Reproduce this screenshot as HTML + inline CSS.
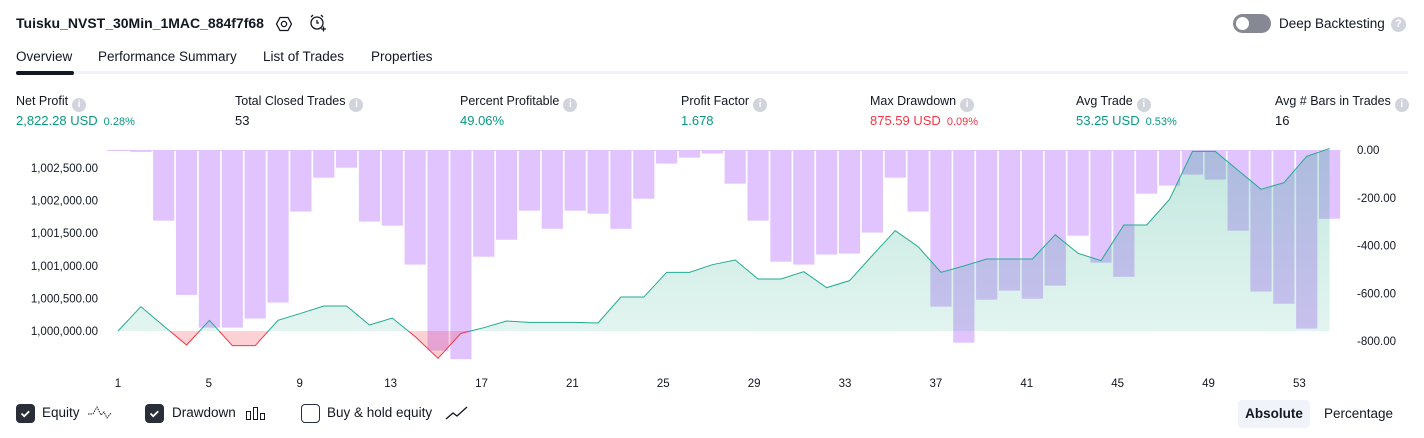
<!DOCTYPE html>
<html><head><meta charset="utf-8"><style>
*{box-sizing:border-box;margin:0;padding:0}
body{width:1424px;height:438px;background:#fff;font-family:"Liberation Sans",sans-serif;color:#131722;position:relative;overflow:hidden}
.a{position:absolute;white-space:nowrap}
.lbl{font-size:12.5px;color:#131722}
.val{font-size:13px}
.info{display:inline-block;width:14px;height:14px;border-radius:50%;background:#d1d4dc;color:#fff;font-size:10px;font-weight:bold;text-align:center;line-height:14px;vertical-align:-2px;margin-left:4px}
.pct{font-size:11px;margin-left:6px}
.g{color:#089981}.r{color:#f23645}
.tab{font-size:13.5px;top:49px}
.cb{position:absolute;width:19px;height:19px;border-radius:4px;top:404px}
.leg{font-size:13.5px;top:405px}
</style></head><body>
<div class="a" style="left:16px;top:15px;font-size:14px;font-weight:bold">Tuisku_NVST_30Min_1MAC_884f7f68</div>
<svg class="a" style="left:275px;top:15px" width="18" height="18" viewBox="0 0 18 18"><polygon points="5,2.5 13,2.5 16.5,9 13,15.5 5,15.5 1.5,9" fill="none" stroke="#131722" stroke-width="1.3"/><circle cx="9" cy="9" r="2.6" fill="none" stroke="#131722" stroke-width="1.3"/></svg>
<svg class="a" style="left:308px;top:13px" width="20" height="20" viewBox="0 0 20 20"><circle cx="9" cy="10" r="6" fill="none" stroke="#131722" stroke-width="1.3"/><path d="M9 7v3h2M3 4l2-2M15 4l-2-2M13 16h5M15.5 13.5v5" fill="none" stroke="#131722" stroke-width="1.3"/></svg>
<div class="a" style="left:1233px;top:14px;width:38px;height:19px;border-radius:10px;background:#868993"><div style="position:absolute;left:3px;top:3px;width:13px;height:13px;border-radius:50%;background:#fff"></div></div>
<div class="a" style="left:1279px;top:16px;font-size:13.5px">Deep Backtesting</div>
<div class="a" style="left:1391px;top:17px;width:15px;height:15px;border-radius:50%;background:#d1d4dc;color:#fff;font-size:11px;font-weight:bold;text-align:center;line-height:15px">?</div>

<div class="a tab" style="left:16px">Overview</div>
<div class="a tab" style="left:98px">Performance Summary</div>
<div class="a tab" style="left:263px">List of Trades</div>
<div class="a tab" style="left:371px">Properties</div>
<div class="a" style="left:16px;top:71px;width:1392px;height:3px;background:#f0f3fa"></div>
<div class="a" style="left:16px;top:71px;width:58px;height:4px;border-radius:2px;background:#131722"></div>

<div class="a lbl" style="left:16px;top:94px">Net Profit<span class="info">i</span></div>
<div class="a val g" style="left:16px;top:113px">2,822.28 USD<span class="pct">0.28%</span></div>
<div class="a lbl" style="left:235px;top:94px">Total Closed Trades<span class="info">i</span></div>
<div class="a val" style="left:235px;top:113px">53</div>
<div class="a lbl" style="left:460px;top:94px">Percent Profitable<span class="info">i</span></div>
<div class="a val g" style="left:460px;top:113px">49.06%</div>
<div class="a lbl" style="left:681px;top:94px">Profit Factor<span class="info">i</span></div>
<div class="a val g" style="left:681px;top:113px">1.678</div>
<div class="a lbl" style="left:870px;top:94px">Max Drawdown<span class="info">i</span></div>
<div class="a val r" style="left:870px;top:113px">875.59 USD<span class="pct">0.09%</span></div>
<div class="a lbl" style="left:1076px;top:94px">Avg Trade<span class="info">i</span></div>
<div class="a val g" style="left:1076px;top:113px">53.25 USD<span class="pct">0.53%</span></div>
<div class="a lbl" style="left:1275px;top:94px">Avg # Bars in Trades<span class="info">i</span></div>
<div class="a val" style="left:1275px;top:113px">16</div>

<svg id="chart" class="a" style="left:0;top:0" width="1424" height="438"></svg>

<div class="cb" style="left:16px;background:#2a2e39"><svg width="19" height="19"><path d="M5.5 9.5l2.7 2.7 5-5" fill="none" stroke="#fff" stroke-width="1.8"/></svg></div>
<div class="a leg" style="left:42px">Equity</div>
<svg class="a" style="left:87px;top:404px" width="26" height="18"><path d="M1 10h5l4-7 4 8 3-3 3 6 4-5" fill="none" stroke="#131722" stroke-width="1" stroke-dasharray="1.5 1"/></svg>
<div class="cb" style="left:145px;background:#2a2e39"><svg width="19" height="19"><path d="M5.5 9.5l2.7 2.7 5-5" fill="none" stroke="#fff" stroke-width="1.8"/></svg></div>
<div class="a leg" style="left:172px">Drawdown</div>
<svg class="a" style="left:245px;top:404px" width="22" height="18"><rect x="1.5" y="7.5" width="4" height="8" fill="none" stroke="#131722"/><rect x="8.5" y="3.5" width="4" height="12" fill="none" stroke="#131722"/><rect x="15.5" y="9.5" width="4" height="6" fill="none" stroke="#131722"/></svg>
<div class="cb" style="left:301px;border:1.5px solid #2a2e39;background:#fff"></div>
<div class="a leg" style="left:327px">Buy &amp; hold equity</div>
<svg class="a" style="left:445px;top:404px" width="24" height="18"><path d="M1 15l7-6 4 3 10-9" fill="none" stroke="#131722" stroke-width="1.3"/></svg>
<div class="a" style="left:1238px;top:400px;width:72px;height:28px;border-radius:4px;background:#f0f3fa;font-size:13.5px;font-weight:bold;text-align:center;line-height:28px">Absolute</div>
<div class="a" style="left:1324px;top:406px;font-size:13.5px">Percentage</div>

<script>
const trades=[1,2,3,4,5,6,7,8,9,10,11,12,13,14,15,16,17,18,19,20,21,22,23,24,25,26,27,28,29,30,31,32,33,34,35,36,37,38,39,40,41,42,43,44,45,46,47,48,49,50,51,52,53,54];
const equity=[0,373,77,-215,164,-225,-225,164,271,383,383,92,199,-87,-419,-36,51,153,133,133,133,123,521,521,900,900,1017,1089,798,798,910,665,772,1160,1539,1294,900,997,1104,1104,1104,1477,1191,1079,1626,1626,2019,2755,2755,2464,2173,2275,2679,2800];
const drawdown=[-3,-8,-296,-607,-744,-744,-706,-639,-258,-116,-74,-300,-317,-480,-840,-876,-447,-376,-254,-330,-254,-267,-330,-204,-57,-32,-15,-141,-296,-468,-480,-438,-434,-346,-116,-258,-656,-807,-627,-589,-623,-568,-359,-472,-531,-183,-149,-103,-124,-338,-593,-644,-748,-288];
const xTicks=[1,5,9,13,17,21,25,29,33,37,41,45,49,53];
const eqTicks=[1000000,1000500,1001000,1001500,1002000,1002500];
const ddTicks=[0,-200,-400,-600,-800];
const initialCapital=1000000;

const NS="http://www.w3.org/2000/svg";
const svg=document.getElementById('chart');
const X=i=>118+(i-1)*22.86;
const YE=v=>331-v/500*32.6;
const YD=d=>150-d/800*191;
const base=YE(0);
function el(t,a,p){const e=document.createElementNS(NS,t);for(const k in a)e.setAttribute(k,a[k]);(p||svg).appendChild(e);return e;}

const defs=el('defs',{});
const gg=el('linearGradient',{id:'gg',x1:0,y1:0,x2:0,y2:1},defs);
el('stop',{offset:0,'stop-color':'#14a582','stop-opacity':0.26},gg);
el('stop',{offset:1,'stop-color':'#14a582','stop-opacity':0.1},gg);
const rg=el('linearGradient',{id:'rg',x1:0,y1:1,x2:0,y2:0},defs);
el('stop',{offset:0,'stop-color':'#f23645','stop-opacity':0.25},rg);
el('stop',{offset:1,'stop-color':'#f23645','stop-opacity':0.02},rg);
const ca=el('clipPath',{id:'ca'},defs);el('rect',{x:0,y:0,width:1424,height:base},ca);
const cb=el('clipPath',{id:'cb'},defs);el('rect',{x:0,y:base,width:1424,height:200},cb);

el('line',{x1:X(1)-11,x2:X(trades.length)+11,y1:150.5,y2:150.5,stroke:'#e1c4fd','stroke-width':1});
trades.forEach((t,i)=>{
  const r=el('rect',{x:X(t)-10.6,y:150,width:21.2,height:Math.max(1,YD(drawdown[i])-150),fill:'#e1c4fd'});
  
  
});

const pts=trades.map((t,i)=>X(t)+','+YE(equity[i]));
const area='M'+X(trades[0])+','+base+' L'+pts.join(' L')+' L'+X(trades[trades.length-1])+','+base+'Z';
const ga=el('path',{d:area,fill:'url(#gg)','clip-path':'url(#ca)'});


const ra=el('path',{d:area,fill:'url(#rg)','clip-path':'url(#cb)'});


const lineD='M'+pts.join(' L');
const gl=el('path',{d:lineD,fill:'none',stroke:'#22ab94','stroke-width':1,'clip-path':'url(#ca)'});


const rl=el('path',{d:lineD,fill:'none',stroke:'#f23645','stroke-width':1,'clip-path':'url(#cb)'});



eqTicks.forEach(v=>{
  const t=el('text',{x:98,y:YE(v-initialCapital)+4,'text-anchor':'end','font-size':11.5,fill:'#131722','font-family':'Liberation Sans, sans-serif'});
  t.textContent=v.toLocaleString('en-US',{minimumFractionDigits:2});
  
  
});
ddTicks.forEach(v=>{
  const t=el('text',{x:1357,y:YD(v)+4,'font-size':11.5,fill:'#131722','font-family':'Liberation Sans, sans-serif'});
  t.textContent=v===0?'0.00':'-'+Math.abs(v).toFixed(2);
  
  
});
xTicks.forEach(v=>{
  const t=el('text',{x:X(v)-(v-1)*0.14,y:387,'text-anchor':'middle','font-size':11.5,fill:'#131722','font-family':'Liberation Sans, sans-serif'});
  t.textContent=v;
  
  
});
</script>
</body></html>
